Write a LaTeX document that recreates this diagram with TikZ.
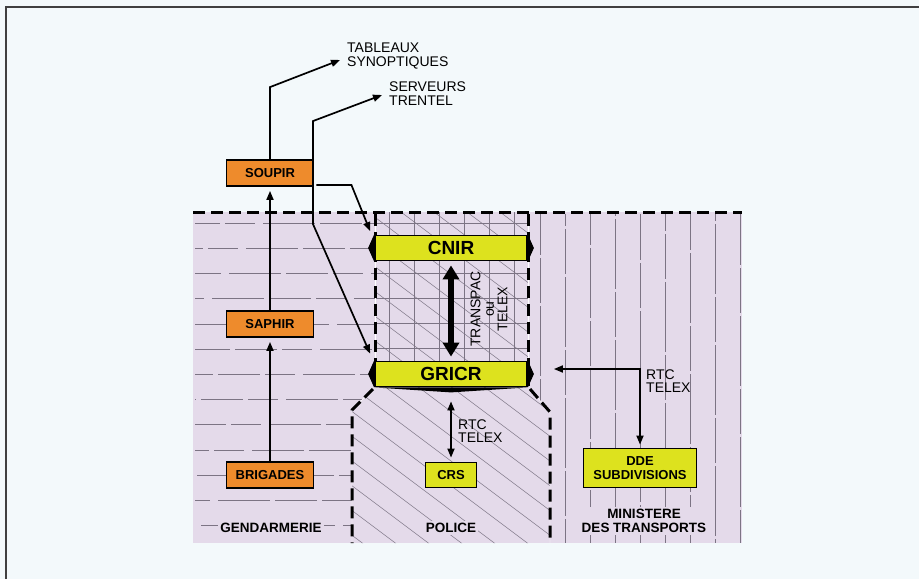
\documentclass[tikz,border=0pt]{standalone}
\usepackage{fontspec}
\setmainfont{Liberation Sans}
\usetikzlibrary{arrows.meta,calc}
\definecolor{bgpaper}{HTML}{F3F9FB}
\definecolor{zonepink}{HTML}{E4DAEA}
\definecolor{boxorange}{HTML}{EE8B2C}
\definecolor{boxyellow}{HTML}{DDE21E}
\definecolor{hatchgray}{HTML}{7C7484}

\begin{document}
\begin{tikzpicture}[x=1pt,y=-1pt,
  obox/.style={draw=black,line width=1.8pt,fill=boxorange,minimum width=87pt,minimum height=26pt,inner sep=0pt,font=\bfseries\fontsize{13}{14}\selectfont},
  ybox/.style={draw=black,line width=1.8pt,fill=boxyellow,inner sep=0pt,align=center,font=\bfseries\fontsize{13}{13.5}\selectfont},
  bar/.style={draw=black,line width=1.8pt,fill=boxyellow,minimum width=152pt,minimum height=25pt,inner sep=0pt,font=\bfseries\fontsize{19}{20}\selectfont},
  lbl/.style={inner sep=0pt,align=left,font=\fontsize{14}{13.5}\selectfont},
  zone/.style={inner sep=2pt,align=center,fill=zonepink,font=\bfseries\fontsize{13.5}{13.5}\selectfont},
  arr/.style={line width=1.7pt,-{Triangle[length=9pt,width=7pt]}},
  darr/.style={line width=1.7pt,{Triangle[length=9pt,width=7pt]}-{Triangle[length=9pt,width=7pt]}},
  frontier/.style={line width=3pt,dash pattern=on 12pt off 6pt},
  hatch/.style={hatchgray,line width=0.5pt}]
  \useasboundingbox (0,0) rectangle (919,579);
  \fill[bgpaper] (0,0) rectangle (919,579);
  \draw[line width=1.5pt,black!75] (6,579) -- (6,7) -- (919,7);
  \fill[zonepink] (193,212) rectangle (742,543);

  \begin{scope}
    \clip (193,212) -- (375,212) -- (375,386) -- (352,410) -- (352,543) -- (193,543) -- cycle;
    \foreach \y [count=\i] in {223,248.2,...,548}
      \draw[hatch,dash pattern=on 42pt off 5pt on 30pt off 8pt on 52pt off 5pt,dash phase=\i*17pt] (195,\y) -- (375,\y);
  \end{scope}
  \begin{scope}
    \clip (375,212) rectangle (528,386);
    \foreach \x in {389,414,...,525} \draw[hatch] (\x,212) -- (\x,386);
    \foreach \y in {223,248,...,386} \draw[hatch] (375,\y) -- (528,\y);
    \foreach \x in {170,203,...,560} \draw[hatch] (\x,212) -- ++(240,180);
  \end{scope}
  \begin{scope}
    \clip (375,386) -- (352,410) -- (352,543) -- (550,543) -- (550,412) -- (528,386) -- cycle;
    \foreach \x in {120,153,...,560} \draw[hatch] (\x,386) -- ++(260,195);
  \end{scope}
  \begin{scope}
    \clip (528,212) -- (742,212) -- (742,543) -- (550,543) -- (550,412) -- (528,386) -- cycle;
    \foreach \x [count=\i] in {540,565,...,740}
      \draw[hatch,dash pattern=on 70pt off 3pt on 45pt off 3pt,dash phase=\i*29pt] (\x,214) -- (\x,543);
  \end{scope}

  \draw[frontier] (193,212) -- (742,212);
  \draw[frontier,preaction={draw=white,solid}] (375,214) -- (375,386) (528,214) -- (528,386);
  \draw[frontier,preaction={draw=white,solid}] (373,389) -- (352,410) -- (352,543);
  \draw[frontier,preaction={draw=white,solid}] (530,389) -- (550,412) -- (550,543);

  \node[obox] (soupir) at (270,173) {SOUPIR};
  \node[obox] (saphir) at (270,324) {SAPHIR};
  \node[obox] (brigades) at (270,475) {BRIGADES};
  \node[bar] (cnir) at (451,248) {CNIR};
  \node[bar] (gricr) at (451,374) {GRICR};
  \fill (cnir.north west) -- ([xshift=-6pt]cnir.west) -- (cnir.south west) -- cycle;
  \fill (cnir.north east) -- ([xshift=6pt]cnir.east) -- (cnir.south east) -- cycle;
  \fill (gricr.north west) -- ([xshift=-6pt]gricr.west) -- (gricr.south west) -- cycle;
  \fill (gricr.north east) -- ([xshift=6pt]gricr.east) -- (gricr.south east) -- cycle;
  \fill (gricr.south west) -- ([yshift=-5pt]gricr.south) -- (gricr.south east) -- cycle;
  \node[ybox,minimum width=51pt,minimum height=25pt] (crs) at (451,475) {CRS};
  \node[ybox,minimum width=113pt,minimum height=39pt] (dde) at (640,468) {DDE\\SUBDIVISIONS};

  \node[lbl,anchor=west] (tableaux) at (347,56) {TABLEAUX\\SYNOPTIQUES};
  \node[lbl,anchor=west] (serveurs) at (389,93.5) {SERVEURS\\TRENTEL};
  \node[lbl,rotate=90,align=center] (transpac) at (489,309) {TRANSPAC\\ou\\TELEX};
  \node[lbl,anchor=west] (rtccrs) at (458,431) {RTC\\TELEX};
  \node[lbl,anchor=west] (rtcdde) at (646,381) {RTC\\TELEX};
  \node[zone] (gendarmerie) at (271,528) {GENDARMERIE};
  \node[zone] (police) at (451,528) {POLICE};
  \node[zone] (ministere) at (644,521) {MINISTERE\\DES TRANSPORTS};

  \draw[arr,shorten >=4pt] (brigades) -- (saphir);
  \draw[arr,shorten >=4pt] (saphir) -- (soupir);
  \draw[arr] (soupir.north) -- ++(0,-72) -- ([xshift=-7pt,yshift=-4pt]tableaux.west);
  \draw[darr] ([xshift=-4pt,yshift=7pt]gricr.north west) -- ([xshift=-1.5pt,yshift=-37pt]soupir.south east)
    -- ([xshift=-1.5pt,yshift=38pt]soupir.north east) -- ([xshift=-7pt,yshift=-1.5pt]serveurs.west);
  \draw[arr] ([xshift=2pt,yshift=2pt]soupir.south east) -- ++(35,0) -- ([xshift=-4pt,yshift=3.5pt]cnir.north west);
  \draw[line width=6pt,{Triangle[length=14pt,width=16pt]}-{Triangle[length=14pt,width=16pt]}]
    ([yshift=-4pt]cnir.south) -- ([yshift=4pt]gricr.north);
  \draw[darr] ([yshift=-14pt]gricr.south) -- ([yshift=4pt]crs.north);
  \draw[darr] ([xshift=26pt,yshift=5pt]gricr.east) -| ([yshift=3pt]dde.north);
\end{tikzpicture}
\end{document}
